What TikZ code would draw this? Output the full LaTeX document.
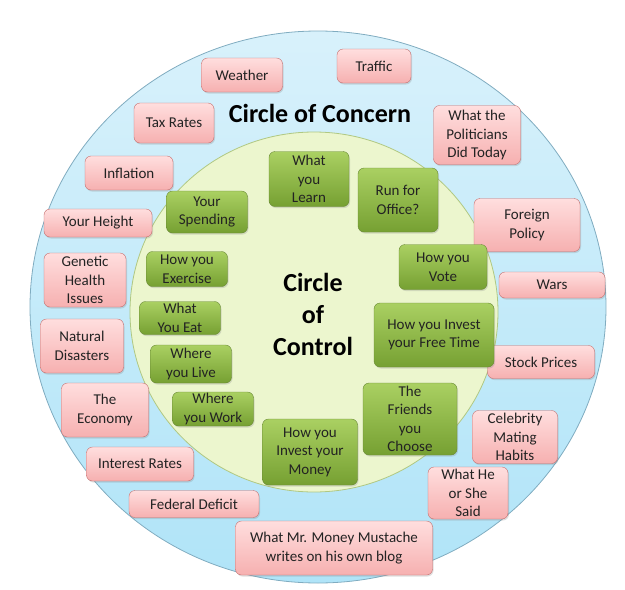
\documentclass[tikz,border=0pt]{standalone}
\usepackage{fontspec}
\setmainfont{Carlito}
\usetikzlibrary{shadows}
\definecolor{outerfillA}{RGB}{216,241,251}
\definecolor{outerfillB}{RGB}{176,228,248}
\definecolor{outerline}{RGB}{128,172,192}
\definecolor{innerfill}{RGB}{236,246,206}
\definecolor{innerline}{RGB}{176,200,130}
\definecolor{pinktop}{RGB}{255,222,222}
\definecolor{pinkbot}{RGB}{246,176,176}
\definecolor{pinkline}{RGB}{196,110,110}
\definecolor{greentop}{RGB}{170,208,98}
\definecolor{greenbot}{RGB}{118,160,50}
\definecolor{greenline}{RGB}{104,136,52}
\definecolor{txt}{RGB}{35,35,35}
\tikzset{
  boxbase/.style={rounded corners=6pt, align=center, inner sep=0pt, text=txt,
    font=\fontsize{15}{18.5}\selectfont,
    drop shadow={opacity=0.25, shadow xshift=1pt, shadow yshift=-1.5pt}},
  concern/.style={boxbase, draw=pinkline, top color=pinktop, bottom color=pinkbot},
  control/.style={boxbase, draw=greenline, top color=greentop, bottom color=greenbot},
  title/.style={font=\bfseries\fontsize{26}{32}\selectfont, align=center, text=black}
}
\begin{document}
\begin{tikzpicture}[x=1pt,y=-1pt]
\useasboundingbox (0,0) rectangle (625,590);
% circles
\path[draw=outerline, line width=0.8pt, top color=outerfillA, bottom color=outerfillB]
  (318,307) ellipse [x radius=288, y radius=276];
\path[draw=innerline, line width=0.8pt, fill=innerfill]
  (314,312) ellipse [x radius=184, y radius=180];
% titles
\node[title] (concerntitle) at (320,113) {Circle of Concern};
\node[title] (controltitle) at (313,314) {Circle\\of\\Control};
% concern boxes
\node[concern, minimum width=81, minimum height=34] (weather) at (242,75) {Weather};
\node[concern, minimum width=74, minimum height=34] (traffic) at (374,66) {Traffic};
\node[concern, minimum width=80, minimum height=40] (tax) at (174,123) {Tax Rates};
\node[concern, minimum width=87, minimum height=59] (politicians) at (477,135) {What the\\Politicians\\Did Today};
\node[concern, minimum width=88, minimum height=34] (inflation) at (129,173) {Inflation};
\node[concern, minimum width=108, minimum height=28] (height) at (98,223) {Your Height};
\node[concern, minimum width=106, minimum height=53] (foreign) at (527,225) {Foreign\\Policy};
\node[concern, minimum width=106, minimum height=26] (wars) at (552,285) {Wars};
\node[concern, minimum width=82, minimum height=54] (genetic) at (85,280) {Genetic\\Health\\Issues};
\node[concern, minimum width=83, minimum height=54] (natural) at (82,346) {Natural\\Disasters};
\node[concern, minimum width=107, minimum height=33] (stock) at (541,362) {Stock Prices};
\node[concern, minimum width=87, minimum height=54] (economy) at (105,410) {The\\Economy};
\node[concern, minimum width=85, minimum height=53] (celebrity) at (515,437) {Celebrity\\Mating\\Habits};
\node[concern, minimum width=107, minimum height=34] (interest) at (140,464) {Interest Rates};
\node[concern, minimum width=80, minimum height=52] (said) at (468,493) {What He\\or She\\Said};
\node[concern, minimum width=130, minimum height=27] (deficit) at (194,504) {Federal Deficit};
\node[concern, minimum width=197, minimum height=54] (mmm) at (334,548) {What Mr. Money Mustache\\writes on his own blog};
% control boxes
\node[control, minimum width=80, minimum height=55] (learn) at (309,179) {What\\you\\Learn};
\node[control, minimum width=80, minimum height=64] (office) at (398,200) {Run for\\Office?};
\node[control, minimum width=81, minimum height=42] (spending) at (207,212) {Your\\Spending};
\node[control, minimum width=88, minimum height=45] (vote) at (443,267) {How you\\Vote};
\node[control, minimum width=81, minimum height=35] (exercise) at (187,269) {How you\\Exercise};
\node[control, minimum width=81, minimum height=33] (eat) at (180,318) {What\\You Eat};
\node[control, minimum width=120, minimum height=64] (freetime) at (434,335) {How you Invest\\your Free Time};
\node[control, minimum width=81, minimum height=38] (live) at (191,364) {Where\\you Live};
\node[control, minimum width=81, minimum height=34] (work) at (213,409) {Where\\you Work};
\node[control, minimum width=94, minimum height=72] (friends) at (410,419) {The\\Friends\\you\\Choose};
\node[control, minimum width=95, minimum height=66] (money) at (310,452) {How you\\Invest your\\Money};
\end{tikzpicture}
\end{document}
